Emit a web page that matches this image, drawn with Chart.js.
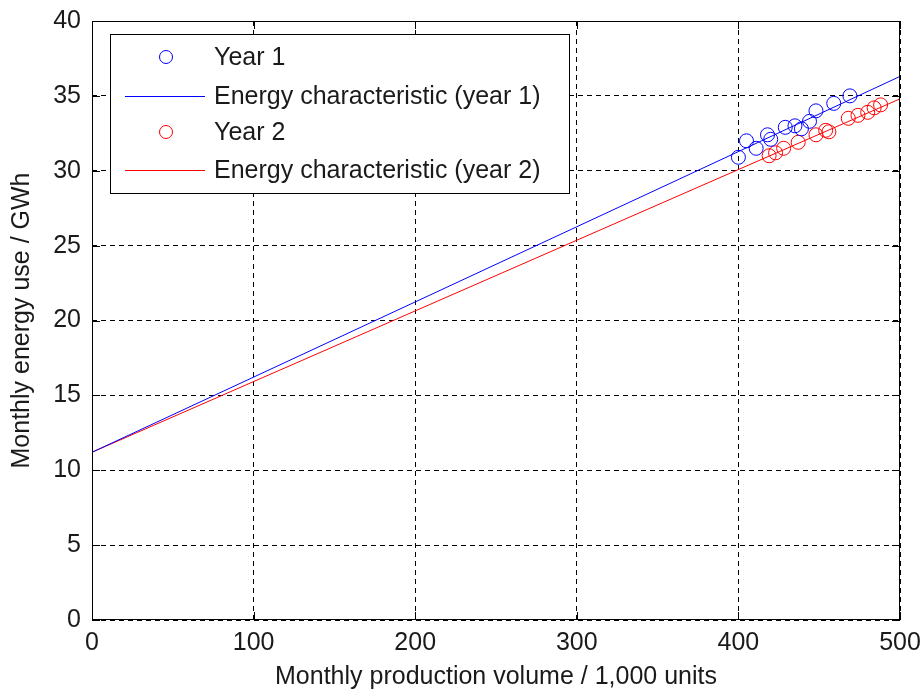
<!DOCTYPE html>
<html>
<head>
<meta charset="utf-8">
<script src="https://cdn.jsdelivr.net/npm/chart.js@4.4.1/dist/chart.umd.min.js"></script>
<style>
  html, body { margin: 0; padding: 0; background: #fff; }
  #wrap { width: 922px; height: 692px; }
</style>
</head>
<body>
<div id="wrap"><canvas id="chart"></canvas></div>
<script>
// data
const year1X = [400, 405, 411, 418, 420, 429, 435, 439, 444, 448, 459, 469];
const year1Y = [30.9, 32.0, 31.5, 32.4, 32.1, 32.9, 33.0, 32.8, 33.3, 34.0, 34.5, 35.0];
const year2X = [419, 423, 428, 437, 448, 454, 456, 468, 474, 480, 484, 488];
const year2Y = [31.0, 31.2, 31.5, 31.9, 32.4, 32.7, 32.6, 33.5, 33.7, 33.9, 34.2, 34.4];
const fit1X = [0, 500];
const fit1Y = [11.2, 36.3];
const fit2X = [0, 500];
const fit2Y = [11.2, 34.8];
const xTicks = [0, 100, 200, 300, 400, 500];
const yTicks = [0, 5, 10, 15, 20, 25, 30, 35, 40];

const FONT = 'Liberation Sans, Arial, sans-serif';
const FSIZE = 25;
const TXT = '#1a1a1a';
const zip = (xs, ys) => xs.map((x, i) => ({ x: x, y: ys[i] }));

// frame, inward ticks and the boxed legend (MATLAB look)
const matlabFrame = {
    id: 'matlabFrame',
    afterDatasetsDraw(chart) {
        const { ctx, chartArea: a, scales } = chart;
        ctx.save();
        ctx.strokeStyle = '#000';
        ctx.lineWidth = 1;
        ctx.setLineDash([]);
        ctx.strokeRect(a.left + 0.5, a.top + 0.5, a.right - a.left - 1, a.bottom - a.top - 1);
        const len = 8;
        ctx.beginPath();
        xTicks.forEach(v => {
            const px = Math.round(scales.x.getPixelForValue(v)) + 0.5;
            ctx.moveTo(px, a.bottom); ctx.lineTo(px, a.bottom - len);
            ctx.moveTo(px, a.top); ctx.lineTo(px, a.top + len);
        });
        yTicks.forEach(v => {
            const py = Math.round(scales.y.getPixelForValue(v)) + 0.5;
            ctx.moveTo(a.left, py); ctx.lineTo(a.left + len, py);
            ctx.moveTo(a.right, py); ctx.lineTo(a.right - len, py);
        });
        ctx.stroke();

        // legend
        const bx = 110, by = 34, bw = 459, bh = 159;
        ctx.fillStyle = '#fff';
        ctx.fillRect(bx, by, bw, bh);
        ctx.strokeRect(bx + 0.5, by + 0.5, bw, bh);
        const rows = [57, 96, 132, 170];
        ctx.font = FSIZE + 'px ' + FONT;
        ctx.textBaseline = 'middle';
        chart.data.datasets.forEach((ds, i) => {
            const y = rows[i];
            ctx.strokeStyle = ds.borderColor;
            ctx.lineWidth = 1;
            if (ds.showLine) {
                ctx.beginPath();
                ctx.moveTo(125, y + 0.5); ctx.lineTo(205, y + 0.5);
                ctx.stroke();
            } else {
                ctx.beginPath();
                ctx.arc(166, y, 6.5, 0, Math.PI * 2);
                ctx.stroke();
            }
            ctx.fillStyle = TXT;
            ctx.fillText(ds.label, 214, y + 1);
        });
        ctx.restore();
    }
};

// keep the plot box fixed: ignore the room chart.js wants for edge labels
function noEdgePad(s) {
    s.paddingLeft = 0; s.paddingRight = 0; s.paddingTop = 0; s.paddingBottom = 0;
}

new Chart(document.getElementById('chart'), {
    type: 'scatter',
    data: {
        datasets: [
            { label: 'Year 1', data: zip(year1X, year1Y), borderColor: '#0000ff', backgroundColor: 'transparent',
              pointRadius: 7, pointBorderWidth: 1, showLine: false, order: 1 },
            { label: 'Energy characteristic (year 1)', data: zip(fit1X, fit1Y), borderColor: '#0000ff',
              borderWidth: 1, pointRadius: 0, showLine: true, order: 2 },
            { label: 'Year 2', data: zip(year2X, year2Y), borderColor: '#ff0000', backgroundColor: 'transparent',
              pointRadius: 7, pointBorderWidth: 1, showLine: false, order: 1 },
            { label: 'Energy characteristic (year 2)', data: zip(fit2X, fit2Y), borderColor: '#ff0000',
              borderWidth: 1, pointRadius: 0, showLine: true, order: 2 }
        ]
    },
    options: {
        responsive: true,
        maintainAspectRatio: false,
        animation: false,
        layout: { padding: { top: 21, right: 22, left: 0, bottom: 0 } },
        plugins: { legend: { display: false }, tooltip: { enabled: false } },
        scales: {
            x: {
                type: 'linear', min: 0, max: 500,
                afterFit: s => { s.height = 72; noEdgePad(s); },
                afterBuildTicks: s => { s.ticks = xTicks.map(v => ({ value: v })); },
                ticks: { color: TXT, font: { family: FONT, size: FSIZE }, padding: 8, maxRotation: 0 },
                grid: { color: '#000', lineWidth: 1, drawTicks: false },
                border: { display: false, dash: [5, 4] },
                title: { display: true, text: 'Monthly production volume / 1,000 units', color: TXT,
                         font: { family: FONT, size: FSIZE }, padding: { top: 0, bottom: 0 } }
            },
            y: {
                type: 'linear', min: 0, max: 40,
                afterFit: s => { s.width = 92; noEdgePad(s); },
                afterBuildTicks: s => { s.ticks = yTicks.map(v => ({ value: v })); },
                ticks: { color: TXT, font: { family: FONT, size: FSIZE }, padding: 11 },
                grid: { color: '#000', lineWidth: 1, drawTicks: false },
                border: { display: false, dash: [5, 4] },
                title: { display: true, text: 'Monthly energy use / GWh', color: TXT,
                         font: { family: FONT, size: FSIZE }, padding: { top: 7, bottom: 0 } }
            }
        }
    },
    plugins: [matlabFrame]
});
</script>
</body>
</html>
